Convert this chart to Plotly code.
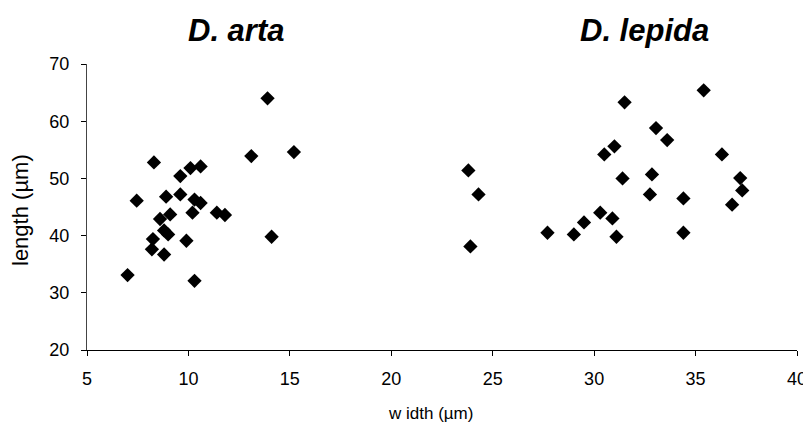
import plotly.graph_objects as go

arta_width = [13.9, 13.1, 15.2, 8.3, 10.1, 10.6, 9.6, 7.45, 8.9, 9.6, 10.3, 10.6, 10.2,
              11.4, 11.8, 9.1, 8.6, 8.8, 9.0, 8.25, 9.9, 8.2, 8.8, 7.0, 10.3, 14.1]
arta_length = [64.0, 53.9, 54.6, 52.8, 51.8, 52.1, 50.4, 46.1, 46.8, 47.2, 46.3, 45.7, 44.0,
               44.0, 43.6, 43.7, 42.9, 40.9, 40.2, 39.4, 39.1, 37.6, 36.7, 33.1, 32.1, 39.8]

lepida_width = [23.8, 24.3, 23.9, 27.7, 29.0, 29.5, 30.3, 30.9, 31.1, 30.5, 31.0, 31.4,
                31.5, 33.05, 33.6, 32.85, 32.75, 34.4, 34.4, 35.4, 36.3, 37.2, 37.3, 36.8]
lepida_length = [51.4, 47.2, 38.1, 40.5, 40.2, 42.3, 44.0, 43.0, 39.8, 54.2, 55.6, 50.0,
                 63.3, 58.8, 56.7, 50.7, 47.2, 46.5, 40.5, 65.4, 54.2, 50.05, 47.9, 45.4]

x_ticks = [5, 10, 15, 20, 25, 30, 35, 40]
y_ticks = [20, 30, 40, 50, 60, 70]

# the page body adds an 8px offset, so the figure is drawn slightly smaller
W, H = 803, 424
L, R, T, B = 79, 14, 56, 82

fig = go.Figure()
marker = dict(symbol="diamond", size=11, color="black", line=dict(width=0))
fig.add_trace(go.Scatter(x=arta_width, y=arta_length, mode="markers", marker=marker,
                         name="D. arta"))
fig.add_trace(go.Scatter(x=lepida_width, y=lepida_length, mode="markers", marker=marker,
                         name="D. lepida"))

font_family = "Liberation Sans, Arial, sans-serif"
pw = W - L - R
ph = H - T - B


def px_to_paper(px, py):
    return (px - 8 - L) / pw, 1 + (T - (py - 8)) / ph


ax, ay = px_to_paper(236, 31)
lx, ly = px_to_paper(644, 31)
xtx, xty = px_to_paper(430, 413)
ytx, yty = px_to_paper(20, 210)

fig.update_layout(
    width=W, height=H,
    margin=dict(l=L, r=R, t=T, b=B, autoexpand=False),
    paper_bgcolor="white", plot_bgcolor="white",
    showlegend=False,
    font=dict(family=font_family, size=18, color="black"),
    xaxis=dict(range=[5, 40], tickvals=x_ticks, showgrid=False, zeroline=False,
               showline=True, linecolor="black", linewidth=1, automargin=False,
               ticks="outside", ticklen=5, tickcolor="black",
               tickfont=dict(size=18), ticklabelstandoff=7),
    yaxis=dict(range=[20, 70], tickvals=y_ticks, showgrid=False, zeroline=False,
               showline=True, linecolor="#444444", linewidth=1, automargin=False,
               ticks="outside", ticklen=5, tickcolor="black",
               tickfont=dict(size=18), ticklabelstandoff=8),
    annotations=[
        dict(text="<b><i>D. arta</i></b>", x=ax, y=ay, xref="paper", yref="paper",
             xanchor="center", yanchor="middle", showarrow=False, font=dict(size=31)),
        dict(text="<b><i>D. lepida</i></b>", x=lx, y=ly, xref="paper", yref="paper",
             xanchor="center", yanchor="middle", showarrow=False, font=dict(size=31)),
        dict(text="w idth (µm)", x=xtx, y=xty, xref="paper", yref="paper",
             xanchor="center", yanchor="middle", showarrow=False, font=dict(size=17)),
        dict(text="length (µm)", x=ytx, y=yty, xref="paper", yref="paper",
             xanchor="center", yanchor="middle", showarrow=False, textangle=-90,
             font=dict(size=22)),
    ],
)

fig.write_html("out.html")
